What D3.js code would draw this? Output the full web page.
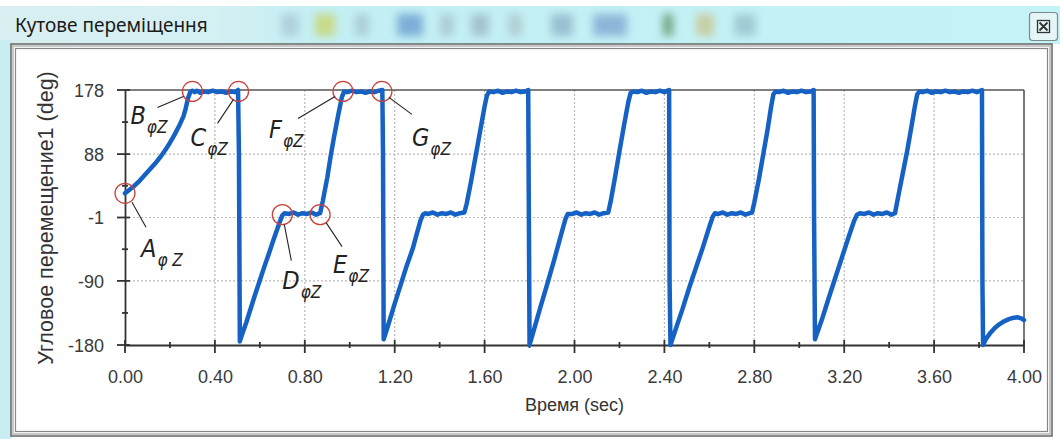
<!DOCTYPE html>
<html><head><meta charset="utf-8">
<script src="https://cdn.jsdelivr.net/npm/d3@7"></script>
<style>html,body{margin:0;padding:0;background:#fff;overflow:hidden}</style>
</head><body><svg id="c" width="1060" height="439"></svg>
<script>
// ---------------- data ----------------
const timeSec = [
  0,0.02,0.04,0.06,0.08,0.10,0.12,0.14,0.16,0.18,0.20,0.22,0.24,0.26,0.27,0.28,0.29,0.30,
  0.31,0.32,0.335,0.35,0.37,0.39,0.41,0.43,0.45,0.47,0.49,0.503,
  0.507,0.511,
  0.52,0.54,0.56,0.58,0.60,0.62,0.64,0.66,0.68,0.69,0.70,0.71,
  0.73,0.75,0.77,0.79,0.81,0.83,0.85,0.868,
  0.88,0.90,0.915,0.93,0.95,0.965,0.975,
  0.99,1.01,1.03,1.05,1.07,1.09,1.11,1.13,1.145,
  1.148,1.151,
  1.17,1.20,1.23,1.25,1.28,1.30,1.315,1.326,1.335,
  1.35,1.37,1.39,1.41,1.43,1.45,1.47,1.49,1.51,
  1.52,1.54,1.56,1.58,1.60,1.61,1.62,
  1.64,1.66,1.68,1.70,1.72,1.74,1.76,1.78,1.794,
  1.797,1.800,
  1.82,1.85,1.88,1.91,1.93,1.95,1.96,1.97,
  1.99,2.01,2.03,2.05,2.07,2.09,2.11,2.13,2.15,
  2.16,2.18,2.20,2.22,2.24,2.25,2.26,
  2.28,2.30,2.32,2.34,2.36,2.38,2.40,2.421,
  2.423,2.427,
  2.45,2.48,2.51,2.54,2.57,2.60,2.615,2.625,
  2.64,2.66,2.68,2.70,2.72,2.74,2.76,2.78,2.79,
  2.80,2.82,2.84,2.86,2.875,2.885,2.895,
  2.91,2.93,2.95,2.97,2.99,3.01,3.03,3.05,3.064,
  3.066,3.070,
  3.10,3.13,3.16,3.19,3.22,3.245,3.257,
  3.27,3.29,3.31,3.33,3.35,3.37,3.39,3.41,3.426,
  3.44,3.46,3.48,3.50,3.515,3.525,3.535,
  3.55,3.57,3.59,3.61,3.63,3.65,3.67,3.69,3.71,3.73,3.75,3.77,3.79,3.813,
  3.815,3.818,
  3.83,3.85,3.87,3.89,3.91,3.93,3.95,3.97,3.99,4.00
];
const angleDeg = [
  33,38,43,49,56,63,70,77,85,94,104,115,127,141,152,166,175,177,
  175,177,174,176,175,177,175,176,174,176,175,178,
  88,-175,
  -166,-148,-128,-108,-89,-70,-52,-33,-15,-6,2,5,
  4,6,3,5,4,6,3,5,
  22,55,85,112,145,168,176,
  175,177,175,176,174,176,175,177,178,
  88,-172,
  -153,-122,-92,-72,-45,-22,-5,3,5,
  4,6,3,5,4,6,3,5,6,
  18,50,85,120,155,170,176,
  175,177,174,176,175,177,175,176,178,
  -1,-180,
  -158,-125,-93,-60,-37,-14,-3,4,
  4,6,3,5,4,6,3,5,6,
  20,55,92,128,162,174,176,
  175,177,174,176,175,177,175,178,
  -90,-180,
  -158,-130,-100,-72,-44,-14,0,5,
  4,6,3,5,4,6,3,5,6,
  20,52,88,124,155,172,176,
  175,177,174,176,175,177,175,176,178,
  -1,-172,
  -145,-115,-86,-57,-28,-5,3,
  5,4,6,3,5,4,6,3,5,
  28,60,92,128,156,172,176,
  175,177,174,176,175,177,175,176,174,176,175,177,175,178,
  -90,-180,
  -172,-163,-156,-151,-147,-144,-142,-141,-143,-145
];
const xTicks = [0,0.4,0.8,1.2,1.6,2.0,2.4,2.8,3.2,3.6,4.0];
const xTickLabels = ["0.00","0.40","0.80","1.20","1.60","2.00","2.40","2.80","3.20","3.60","4.00"];
const yTicks = [178,88,-1,-90,-180];
const yTickLabels = ["178","88","-1","-90","-180"];
const annotLetters = ["A","B","C","D","E","F","G"];
const annotSubs = ["φ Z","φZ","φZ","φZ","φZ","φZ","φZ"];
const annotTime = [0,0.30,0.505,0.70,0.868,0.97,1.143];
const annotAngle = [33,176,176,3,3,176,176];
const windowTitle = "Кутове переміщення";
const xTitle = "Время (sec)";
const yTitle = "Угловое перемещение1  (deg)";

// ---------------- layout ----------------
const W = 1060, H = 439;
const P = {l:125, r:1024, t:90, b:345};
// label offsets relative to circle centre: [letter dx, dy, line x1,y1,x2,y2]
const annotLayout = [
  [16,64, 7,9, 21,34],
  [-62,33, -9,5, -35,16],
  [-48,55, -5,8, -21,32],
  [0,74, 2,10, 9,46],
  [13,58, 6,8, 22,32],
  [-74,47, -8,5, -45,27],
  [30,55, 7,6, 30,23]
];

const svg = d3.select("#c");
const defs = svg.append("defs");
const g1 = defs.append("linearGradient").attr("id","tb").attr("x1",0).attr("x2",1).attr("y1",0).attr("y2",0);
g1.append("stop").attr("offset","0").attr("stop-color","#d9eff1");
g1.append("stop").attr("offset","0.2").attr("stop-color","#d4f0f3");
g1.append("stop").attr("offset","0.3").attr("stop-color","#c3eff4");
g1.append("stop").attr("offset","1").attr("stop-color","#c4f3f8");
defs.append("filter").attr("id","bl").attr("x","-50%").attr("y","-50%").attr("width","200%").attr("height","200%")
  .append("feGaussianBlur").attr("stdDeviation",4);

// chrome
svg.append("rect").attr("x",0).attr("y",0).attr("width",W).attr("height",H).attr("fill","#fff");
svg.append("rect").attr("x",0).attr("y",6).attr("width",W).attr("height",38).attr("fill","url(#tb)");
svg.append("rect").attr("x",0).attr("y",40).attr("width",11).attr("height",H-40).attr("fill","#c8eef1");
// blurred toolbar icons
const icons = [[290,"#a9c9d6",18],[325,"#c9d46a",20],[362,"#a7c6cf",14],[410,"#6c9fcf",26],[447,"#a8c4cc",14],
  [480,"#9db8c6",18],[515,"#adc7cc",14],[562,"#8fb4c8",22],[610,"#7ea8d2",34],[668,"#5c9163",10],
  [705,"#c9c58f",18],[745,"#97c2cc",22]];
const ig = svg.append("g").attr("filter","url(#bl)");
icons.forEach(d=>ig.append("rect").attr("x",d[0]-d[2]/2).attr("y",14).attr("width",d[2]).attr("height",22).attr("fill",d[1]).attr("opacity",0.8));
svg.append("text").attr("x",15).attr("y",32).attr("font-family","'Noto Sans','Open Sans',sans-serif")
  .attr("font-size",19).attr("fill","#1a1a1a").text(windowTitle);
// close button
svg.append("rect").attr("x",1029.5).attr("y",12.5).attr("width",28).attr("height",28).attr("rx",3)
  .attr("fill","#e6f6f8").attr("stroke","#7d8a8c").attr("stroke-width",1.2);
svg.append("rect").attr("x",1037.5).attr("y",20.5).attr("width",12).attr("height",12).attr("fill","none").attr("stroke","#333").attr("stroke-width",1.3);
svg.append("path").attr("d","M1039.5,22.5L1047.5,30.5M1047.5,22.5L1039.5,30.5").attr("stroke","#333").attr("stroke-width",1.8);
// frame
svg.append("rect").attr("x",11).attr("y",44).attr("width",1041).attr("height",392).attr("fill","#fff").attr("stroke","#666").attr("stroke-width",1.5);
svg.append("rect").attr("x",15.5).attr("y",48.5).attr("width",1032).attr("height",383).attr("fill","none").attr("stroke","#888").attr("stroke-width",1.2);
svg.append("rect").attr("x",13).attr("y",46).attr("width",1037).attr("height",388).attr("fill","none").attr("stroke","#c8c8c8").attr("stroke-width",2);

// ---------------- chart ----------------
const x = d3.scaleLinear().domain([0,4]).range([P.l,P.r]);
const y = d3.scaleLinear().domain([-180,178]).range([P.b,P.t]);

const grid = svg.append("g").attr("stroke","#b9b9b9").attr("stroke-width",1.2).attr("stroke-dasharray","2,2");
xTicks.slice(1,-1).forEach(t=>grid.append("line").attr("x1",x(t)).attr("x2",x(t)).attr("y1",P.t).attr("y2",P.b));
yTicks.slice(1,-1).forEach(v=>grid.append("line").attr("x1",P.l).attr("x2",P.r).attr("y1",y(v)).attr("y2",y(v)));

// frame lines
svg.append("line").attr("x1",P.l).attr("x2",P.r).attr("y1",P.t).attr("y2",P.t).attr("stroke","#555").attr("stroke-width",1.6);
svg.append("line").attr("x1",P.r).attr("x2",P.r).attr("y1",P.t).attr("y2",P.b).attr("stroke","#555").attr("stroke-width",1.6);

// axes
const xAxis = d3.axisBottom(x).tickValues(xTicks).tickFormat((d,i)=>xTickLabels[i]).tickSize(0).tickPadding(0);
const gx = svg.append("g").attr("transform",`translate(0,${P.b})`).call(xAxis);
gx.select(".domain").attr("stroke","#333").attr("stroke-width",1.8);
gx.selectAll("text").attr("y",38).attr("dy",null).attr("font-family","'Liberation Sans',Arial,sans-serif").attr("font-size",18).attr("fill","#3a3a3a");
const yAxis = d3.axisLeft(y).tickValues(yTicks).tickFormat((d,i)=>yTickLabels[i]).tickSize(0).tickPadding(0);
const gy = svg.append("g").attr("transform",`translate(${P.l},0)`).call(yAxis);
gy.select(".domain").attr("stroke","#333").attr("stroke-width",1.8);
gy.selectAll("text").attr("x",-21).attr("dy","0.35em").attr("font-family","'Liberation Sans',Arial,sans-serif").attr("font-size",18).attr("fill","#3a3a3a");

const tk = svg.append("g").attr("stroke","#333").attr("stroke-width",1.8);
xTicks.forEach(t=>tk.append("line").attr("x1",x(t)).attr("x2",x(t)).attr("y1",P.b-5).attr("y2",P.b+8));
d3.pairs(xTicks).forEach(([a,b])=>{const m=(a+b)/2;tk.append("line").attr("x1",x(m)).attr("x2",x(m)).attr("y1",P.b-3).attr("y2",P.b+3);});
yTicks.forEach(v=>tk.append("line").attr("x1",P.l-8).attr("x2",P.l+5).attr("y1",y(v)).attr("y2",y(v)));
d3.pairs(yTicks).forEach(([a,b])=>{const m=(a+b)/2;tk.append("line").attr("x1",P.l-3).attr("x2",P.l+3).attr("y1",y(m)).attr("y2",y(m));});

svg.append("text").attr("x",(P.l+P.r)/2).attr("y",411).attr("text-anchor","middle")
  .attr("font-family","'Liberation Sans',Arial,sans-serif").attr("font-size",18).attr("fill","#333").text(xTitle);
svg.append("text").attr("transform","translate(53,218) rotate(-90)").attr("text-anchor","middle")
  .attr("font-family","'Liberation Sans',Arial,sans-serif").attr("font-size",21.5).attr("fill","#333").text(yTitle);

// series
const pts = timeSec.map((t,i)=>[t,angleDeg[i]]);
svg.append("path").datum(pts).attr("fill","none").attr("stroke","#1662c4").attr("stroke-width",4.5)
  .attr("stroke-linejoin","round").attr("stroke-linecap","round")
  .attr("d",d3.line().x(d=>x(d[0])).y(d=>y(d[1])));

// annotations
const an = svg.append("g");
annotLetters.forEach((L,i)=>{
  const cx = x(annotTime[i]), cy = y(annotAngle[i]);
  const o = annotLayout[i];
  an.append("circle").attr("cx",cx).attr("cy",cy).attr("r",10).attr("fill","none").attr("stroke","#c9433d").attr("stroke-width",1.3);
  an.append("line").attr("x1",cx+o[2]).attr("y1",cy+o[3]).attr("x2",cx+o[4]).attr("y2",cy+o[5]).attr("stroke","#222").attr("stroke-width",1.1);
  const tx = an.append("text").attr("x",cx+o[0]).attr("y",cy+o[1]).attr("font-style","italic")
    .attr("font-family","'Liberation Sans Narrow','DejaVu Sans Condensed','Liberation Sans',sans-serif").attr("fill","#222");
  tx.append("tspan").attr("font-size",25).text(L);
  tx.append("tspan").attr("font-size",17).attr("dy",9).attr("dx",1).text(annotSubs[i]);
});
</script></body></html>
